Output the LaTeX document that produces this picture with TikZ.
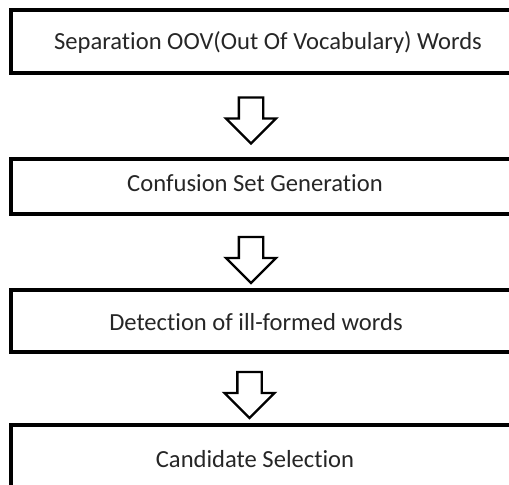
\documentclass[tikz,border=0pt]{standalone}
\usepackage{fontspec}
\setmainfont{Carlito}[Ligatures=NoCommon]
\usetikzlibrary{shapes.arrows}

\begin{document}
\begin{tikzpicture}[x=0.02cm, y=-0.02cm,
        box/.style = {draw, line width=2.4pt, minimum width=10.28cm, inner sep=0pt},
        txt/.style = {text=black!85, font=\fontsize{14}{17}\selectfont},
        down/.style = {draw, line width=1.3pt, shape=single arrow, shape border rotate=270,
                       inner sep=0.22cm, single arrow head extend=0.26cm,
                       minimum height=0.92cm}]
                \clip (0,0) rectangle (509,484);

                \node[box, minimum height=1.26cm] at (268, 41.5) (sep) {};
                \node[box, minimum height=1.1cm] at (268, 186.5) (conf) {};
                \node[box, minimum height=1.24cm] at (268, 321) (det) {};
                \node[box, minimum height=1.4cm] at (268, 460) (cand) {};

                \node[txt] at (268, 42) (septext) {Separation OOV(Out Of Vocabulary) Words};
                \node[txt] at (255, 183) (conftext) {Confusion Set Generation};
                \node[txt] at (256, 322) (dettext) {Detection of ill-formed words};
                \node[txt] at (255, 459) (candtext) {Candidate Selection};

                \node[down] at (251, 114.5) (a1) {};
                \node[down] at (251, 254) (a2) {};
                \node[down] at (249.5, 389) (a3) {};
            \end{tikzpicture}
\end{document}
